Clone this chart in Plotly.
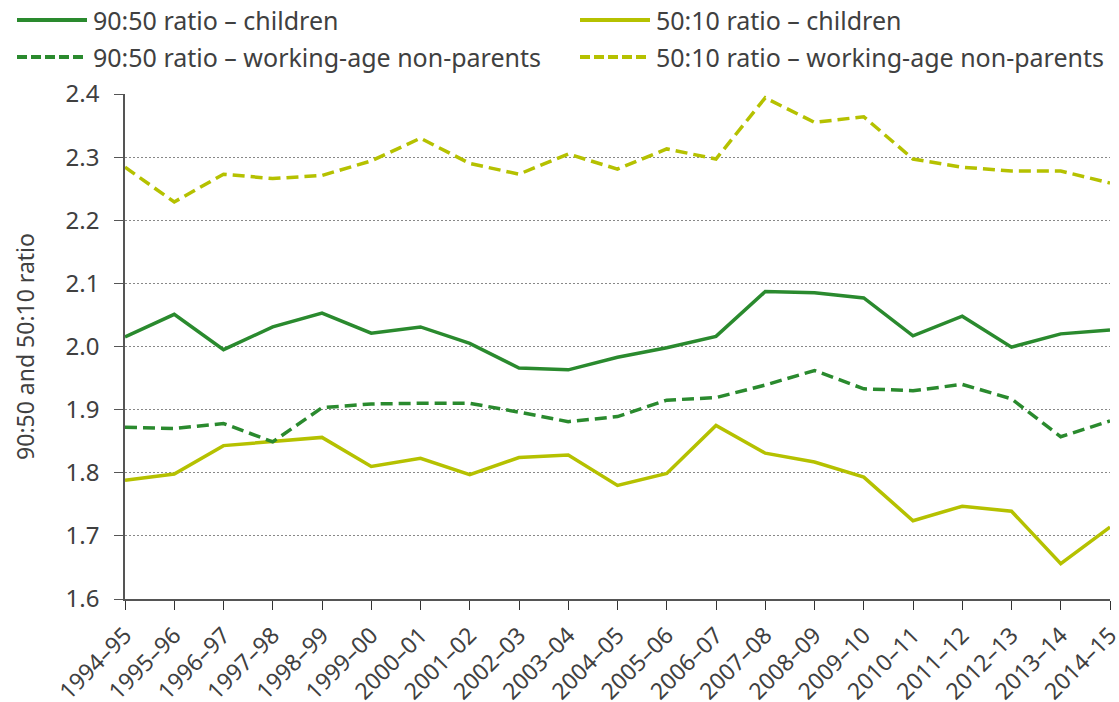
"""
90:50 and 50:10 income ratios, children vs working-age non-parents
"""

import plotly.graph_objects as go

## financial years on the x axis
years = [
    "1994–95", "1995–96", "1996–97", "1997–98", "1998–99", "1999–00", "2000–01",
    "2001–02", "2002–03", "2003–04", "2004–05", "2005–06", "2006–07", "2007–08",
    "2008–09", "2009–10", "2010–11", "2011–12", "2012–13", "2013–14", "2014–15",
]

## ratios
r9050_children = [
    2.015, 2.051, 1.995, 2.031, 2.053, 2.021, 2.031, 2.005, 1.966, 1.963, 1.983,
    1.998, 2.016, 2.087, 2.085, 2.077, 2.017, 2.048, 1.999, 2.020, 2.026,
]
r5010_children = [
    1.788, 1.798, 1.843, 1.849, 1.856, 1.810, 1.823, 1.797, 1.824, 1.828, 1.780,
    1.799, 1.875, 1.831, 1.817, 1.793, 1.724, 1.747, 1.739, 1.656, 1.714,
]
r9050_nonparents = [
    1.872, 1.870, 1.878, 1.849, 1.903, 1.909, 1.910, 1.910, 1.896, 1.881, 1.889,
    1.915, 1.919, 1.939, 1.962, 1.933, 1.930, 1.940, 1.917, 1.857, 1.882,
]
r5010_nonparents = [
    2.284, 2.229, 2.273, 2.266, 2.271, 2.294, 2.330, 2.290, 2.273, 2.305, 2.281,
    2.313, 2.297, 2.394, 2.355, 2.364, 2.297, 2.284, 2.278, 2.278, 2.259,
]

green = "#2A8A2E"
yellow = "#B5C100"
grey = "#404040"
dashed = "12px,6px"

series = [
    ("90:50 ratio – children", r9050_children, green, "solid"),
    ("50:10 ratio – children", r5010_children, yellow, "solid"),
    ("90:50 ratio – working-age non-parents", r9050_nonparents, green, dashed),
    ("50:10 ratio – working-age non-parents", r5010_nonparents, yellow, dashed),
]

W, H = 1119, 702
ML, MR, MT, MB = 125, 9, 94, 103
pw, ph = W - ML - MR, H - MT - MB


def px(x):
    return (x - ML) / pw


def py(y):
    return (H - MB - y) / ph


fig = go.Figure()
for name, vals, col, dash in series:
    fig.add_scatter(x=years, y=vals, name=name, mode="lines",
                    line=dict(color=col, width=3.5, dash=dash), showlegend=False)

## legend drawn by hand: two columns, long line samples
legend_pos = [(17, 20), (580, 20), (17, 57), (580, 57)]
for (name, vals, col, dash), (lx, ly) in zip(series, legend_pos):
    fig.add_shape(type="line", xref="paper", yref="paper",
                  x0=px(lx), x1=px(lx + 70), y0=py(ly), y1=py(ly),
                  line=dict(color=col, width=4, dash="10px,4px" if dash != "solid" else "solid"))
    fig.add_annotation(xref="paper", yref="paper", x=px(lx + 74), y=py(ly),
                       text=name, showarrow=False, xanchor="left", yanchor="middle",
                       font=dict(size=25, color=grey))

fig.update_layout(
    width=W,
    height=H,
    margin=dict(l=ML, r=MR, t=MT, b=MB),
    plot_bgcolor="white",
    paper_bgcolor="white",
    font=dict(family="Noto Sans", size=24, color=grey),
    showlegend=False,
)
fig.update_xaxes(
    type="category",
    range=[0, len(years) - 1],
    showline=True, linecolor="#555555", linewidth=1.5,
    ticks="outside", ticklen=9, tickcolor="#333333", tickwidth=1.2,
    tickangle=-45, tickfont=dict(size=23),
    ticklabelstandoff=3,
    showgrid=False, automargin=False,
)
fig.update_yaxes(
    range=[1.6, 2.4],
    dtick=0.1,
    tickformat=".1f",
    showline=True, linecolor="#555555", linewidth=1.5,
    ticks="outside", ticklen=9, tickcolor="#555555",
    ticklabelstandoff=10,
    showgrid=True, gridcolor="#888888", gridwidth=1, griddash="2px,2px",
    zeroline=False, automargin=False,
    title=dict(text="90:50 and 50:10 ratio", font=dict(size=23), standoff=25),
)
fig.write_html("out.html", config={"displayModeBar": False},
               post_script="document.body.style.margin='0';")
